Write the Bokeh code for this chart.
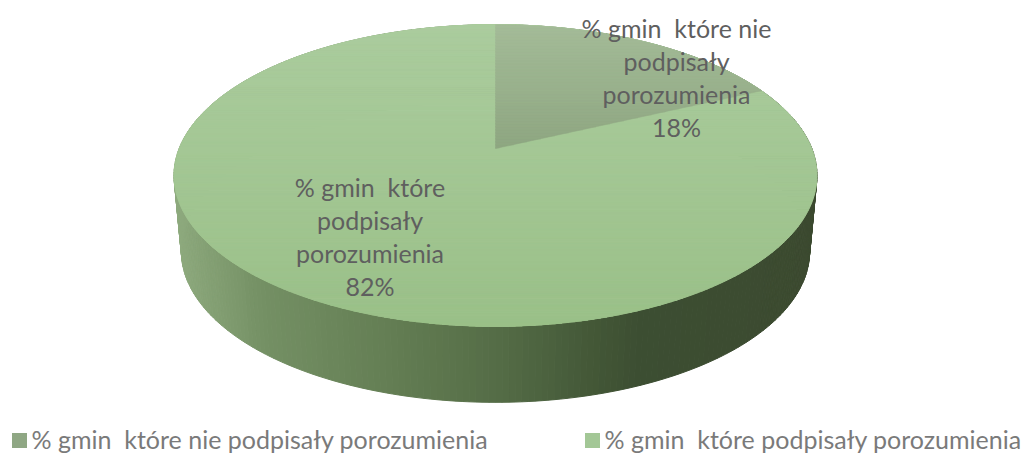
import numpy as np
from bokeh.embed import file_html
from bokeh.models import Range1d
from bokeh.plotting import figure
from bokeh.resources import INLINE
from bokeh.core.properties import value

categories = ["% gmin  które nie podpisały porozumienia", "% gmin  które podpisały porozumienia"]
label_lines = [["% gmin  które nie", "podpisały", "porozumienia"], ["% gmin  które", "podpisały", "porozumienia"]]
values = [18, 82]

W, H = 1024, 453
FONT = value("Lato")

def keep_spaces(s):
    return s.replace("  ", "\u00a0 ")

def lerp(stops, t):
    xs = [s[0] for s in stops]
    t = float(np.clip(t, xs[0], xs[-1]))
    rgb = [np.interp(t, xs, [s[1][i] for s in stops]) for i in range(3)]
    return "#%02x%02x%02x" % tuple(int(round(c)) for c in rgb)

CX, CY = 495, 148
K, A, B = 0.179, 316.3, 146.0

def rim(theta, a=A, b=B, dy=0.0):
    u, v = np.sin(theta), np.cos(theta)
    d = 1 + K * v
    return CX + a * u / d, CY + dy - b * v / d

p = figure(width=W, height=H, output_backend="svg", toolbar_location=None,
           x_range=Range1d(0, W), y_range=Range1d(H, 0), min_border=0,
           outline_line_color=None, background_fill_color="white", border_fill_color="white")
p.axis.visible = False
p.grid.visible = False

# side wall
side_stops = [(172, (142, 170, 126)), (260, (116, 144, 100)), (400, (98, 124, 82)),
              (500, (84, 108, 70)), (600, (66, 86, 54)), (640, (60, 78, 50)), (817, (60, 74, 48))]
th = np.linspace(0, 2 * np.pi, 361)
tx, ty = rim(th)
bx, by = rim(th, a=A * 0.977, b=B, dy=76.0)
xs, ys, cs = [], [], []
for i in range(360):
    xs.append([tx[i], tx[i + 1], bx[i + 1], bx[i]])
    ys.append([ty[i], ty[i + 1], by[i + 1], by[i]])
    cs.append(lerp(side_stops, (tx[i] + tx[i + 1]) / 2))
p.patches(xs, ys, fill_color=cs, line_color=cs, line_width=1)

# top face (vertical gradient), drawn in bands
face_stops = [(24, (171, 204, 158)), (326, (154, 192, 136))]
th = np.linspace(0, np.pi, 181)
rx, ry = rim(th)
xs, ys, cs = [], [], []
for i in range(180):
    xs.append([rx[i], rx[i + 1], 2 * CX - rx[i + 1], 2 * CX - rx[i]])
    ys.append([ry[i], ry[i + 1], ry[i + 1], ry[i]])
    cs.append(lerp(face_stops, (ry[i] + ry[i + 1]) / 2))
p.patches(xs, ys, fill_color=cs, line_color=cs, line_width=1)

# wedge of the first value, in horizontal bands clipped from its outline
def clip_band(poly, y0, y1):
    def clip(pts, inside, cross):
        out = []
        for j in range(len(pts)):
            a, b = pts[j], pts[(j + 1) % len(pts)]
            ia, ib = inside(a), inside(b)
            if ia:
                out.append(a)
            if ia != ib:
                t = (cross - a[1]) / (b[1] - a[1])
                out.append((a[0] + t * (b[0] - a[0]), cross))
        return out
    pts = clip(poly, lambda q: q[1] >= y0, y0)
    return clip(pts, lambda q: q[1] <= y1, y1) if pts else []

sweep = 2 * np.pi * values[0] / sum(values)
wt = np.linspace(0, sweep, 90)
wx, wy = rim(wt)
outline = [(CX, CY)] + list(zip(wx, wy))
wedge_stops = [(24, (164, 187, 152)), (148, (142, 166, 129))]
edges = np.arange(min(wy), CY + 3, 3.0)
xs, ys, cs = [], [], []
for y0, y1 in zip(edges[:-1], edges[1:]):
    pts = clip_band(outline, y0, y1)
    if len(pts) >= 3:
        xs.append([q[0] for q in pts])
        ys.append([q[1] for q in pts])
        cs.append(lerp(wedge_stops, (y0 + y1) / 2))
p.patches(xs, ys, fill_color=cs, line_color=cs, line_width=0.5)

# data labels
shares = [round(100 * v / sum(values)) for v in values]
label_pos = [(676, 12), (369.5, 171)]
for lines, share, (lx, ly) in zip(label_lines, shares, label_pos):
    for n, t in enumerate(lines + [f"{share}%"]):
        p.text([lx], [ly + 15 + n * 33], text=[keep_spaces(t)], text_font=FONT, text_font_size="25px",
               text_color="#5f5f5f", text_align="center", text_baseline="middle")

# legend
leg_x = [10, 583]
leg_colors = ["#8fa784", "#a3c796"]
for c, name, lx in zip(leg_colors, categories, leg_x):
    p.rect([lx + 9], [440], width=15, height=15, fill_color=c, line_color=None)
    p.text([lx + 21], [438], text=[keep_spaces(name)], text_font=FONT, text_font_size="25px",
           text_color="#7a7a7a", text_align="left", text_baseline="middle")

open("out.html", "w").write(file_html(p, INLINE))
